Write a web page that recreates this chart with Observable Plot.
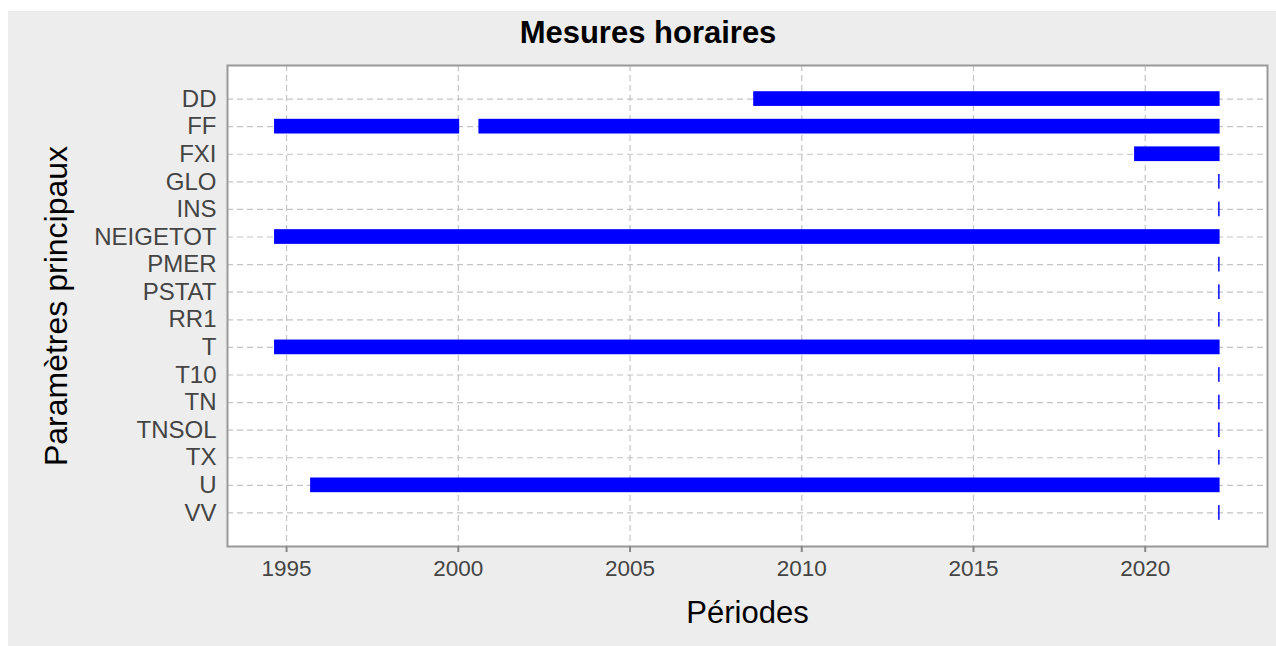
<!DOCTYPE html>
<html>
<head>
<meta charset="utf-8">
<script src="https://cdn.jsdelivr.net/npm/d3@7"></script>
<script src="https://cdn.jsdelivr.net/npm/@observablehq/plot@0.6"></script>
<style>
  html, body { margin: 0; padding: 0; background: #ffffff; overflow: hidden; }
  #fig { position: absolute; left: 8px; top: 11px; width: 1268px; height: 635px; background: #ededed; }
  #title { height: 44px; padding-top: 6px; padding-left: 12px; line-height: 31px; text-align: center;
           font-family: "Liberation Sans", Arial, sans-serif; font-weight: bold; font-size: 31px; color: #000; }
</style>
</head>
<body>
<div id="fig">
  <div id="title">Mesures horaires</div>
  <div id="chart"></div>
</div>
<script>
// Categories (top to bottom)
const params = ["DD","FF","FXI","GLO","INS","NEIGETOT","PMER","PSTAT","RR1","T","T10","TN","TNSOL","TX","U","VV"];
// Measurement periods (decimal years)
const segParam = ["DD","FF","FF","FXI","NEIGETOT","T","U",
                  "GLO","INS","PMER","PSTAT","RR1","T10","TN","TNSOL","TX","VV"];
const segStart = [2008.6, 1994.65, 2000.6, 2019.69, 1994.65, 1994.65, 1995.7,
                  2022.137, 2022.137, 2022.137, 2022.137, 2022.137, 2022.137, 2022.137, 2022.137, 2022.137, 2022.137];
const segEnd   = [2022.18, 2000.04, 2022.18, 2022.18, 2022.18, 2022.18, 2022.18,
                  2022.18, 2022.18, 2022.18, 2022.18, 2022.18, 2022.18, 2022.18, 2022.18, 2022.18, 2022.18];
const xTicks = [1995, 2000, 2005, 2010, 2015, 2020];
const xDomain = [1993.28, 2023.56];

const segments = segParam.map((p, i) => ({param: p, start: segStart[i], end: segEnd[i]}));

const chart = Plot.plot({
  width: 1268,
  height: 585,
  marginTop: 4,
  marginBottom: 100,
  marginLeft: 219,
  marginRight: 9,
  style: {fontFamily: "'Liberation Sans', Arial, sans-serif", background: "transparent", overflow: "visible"},
  x: {domain: xDomain},
  y: {type: "band", domain: params, paddingInner: 0.467, paddingOuter: 0.95, align: 0.5, round: false},
  marks: [
    Plot.frame({fill: "white", stroke: "none"}),
    Plot.gridX({ticks: xTicks, stroke: "#c4c4c4", strokeOpacity: 1, strokeWidth: 1.2, strokeDasharray: "6,4"}),
    Plot.gridY({stroke: "#c4c4c4", strokeOpacity: 1, strokeWidth: 1.2, strokeDasharray: "6,4"}),
    Plot.barX(segments, {x1: "start", x2: "end", y: "param", fill: "#0000ff"}),
    Plot.frame({stroke: "#999", strokeWidth: 2}),
    Plot.axisX({ticks: xTicks, tickFormat: d => String(d), tickSize: 6, tickPadding: 8,
                fontSize: 22.5, fill: "#444", stroke: "#888", strokeWidth: 2, label: null}),
    Plot.axisY({tickSize: 0, tickPadding: 11, fontSize: 24, fill: "#444", label: null}),
    Plot.text(["Périodes"], {frameAnchor: "bottom", lineAnchor: "middle", textAnchor: "middle", dy: 67, fontSize: 31, fill: "black"}),
    Plot.text(["Paramètres principaux"], {frameAnchor: "left", lineAnchor: "middle", textAnchor: "middle", dx: -171, rotate: -90, fontSize: 32, fill: "black"})
  ]
});
document.getElementById("chart").appendChild(chart);
</script>
</body>
</html>
